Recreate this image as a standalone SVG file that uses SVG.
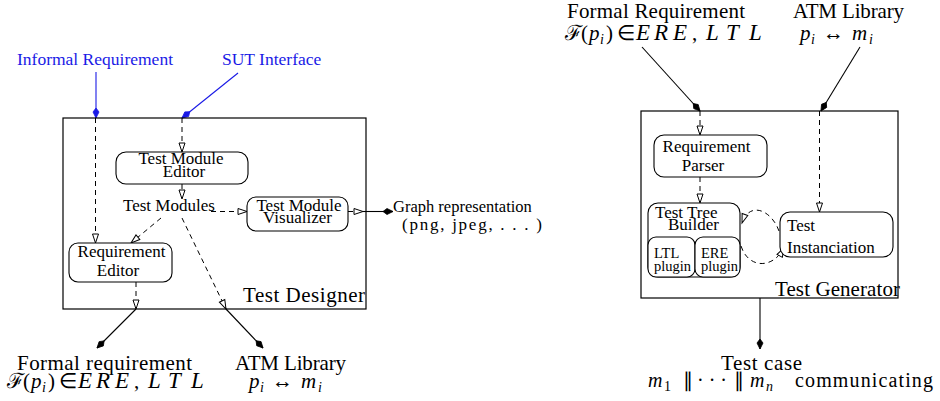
<svg xmlns="http://www.w3.org/2000/svg" width="940" height="401" viewBox="0 0 940 401">
<style>
.big{font-size:21px}
.mid{font-size:17px}
.sm{font-size:14.5px}
.blue{fill:#1a1ae6;font-size:17.5px}
.it{font-style:italic}
.cap{font-style:italic;font-size:23px}
.sub{font-style:italic;font-size:14px}
.box{fill:none;stroke:#000;stroke-width:1.2}
.node{fill:#fff;stroke:#000;stroke-width:1.1}
.dash{fill:none;stroke:#000;stroke-width:1;stroke-dasharray:5,4;marker-end:url(#open)}
.solid{fill:none;stroke:#000;stroke-width:1.1;marker-end:url(#fill)}
.bsolid{fill:none;stroke:#1a1ae6;stroke-width:1.1;marker-end:url(#bfill)}
</style>
<defs>
<marker id="open" markerUnits="userSpaceOnUse" markerWidth="12" markerHeight="10" refX="9" refY="3" orient="auto" overflow="visible">
<path d="M0,0 L9,3 L0,6 Z" fill="#fff" stroke="#000" stroke-width="1"/>
</marker>
<marker id="fill" markerUnits="userSpaceOnUse" markerWidth="12" markerHeight="10" refX="10" refY="3" orient="auto" overflow="visible">
<path d="M0,3 L4,0 L10,3 L4,6 Z" fill="#000" stroke="#000" stroke-width="0.8"/>
</marker>
<marker id="bfill" markerUnits="userSpaceOnUse" markerWidth="12" markerHeight="10" refX="10" refY="3" orient="auto" overflow="visible">
<path d="M0,3 L4,0 L10,3 L4,6 Z" fill="#1a1ae6" stroke="#1a1ae6" stroke-width="0.8"/>
</marker>
</defs>

<g id="connectors">
<line class="bsolid" x1="96" y1="72" x2="96" y2="118"/>
<line class="dash" x1="95.5" y1="118" x2="95.5" y2="243"/>
<line class="bsolid" x1="238" y1="73" x2="182" y2="118"/>
<line class="dash" x1="182" y1="118" x2="182" y2="152"/>
<line class="dash" x1="182" y1="184" x2="182" y2="199"/>
<line class="dash" x1="211" y1="211.5" x2="247" y2="211.5"/>
<line class="dash" x1="161" y1="218" x2="131" y2="243"/>
<line class="dash" x1="182" y1="218" x2="226" y2="309"/>
<line class="solid" x1="226" y1="309" x2="263" y2="348"/>
<line class="dash" x1="136" y1="282" x2="136" y2="309"/>
<line class="solid" x1="136" y1="309" x2="97" y2="348"/>
<line class="dash" x1="348" y1="211.5" x2="363" y2="211.5"/>
<line class="solid" x1="363" y1="211.5" x2="393" y2="211.5"/>
<line class="solid" x1="642" y1="47" x2="700" y2="111"/>
<line class="dash" x1="700" y1="111" x2="700" y2="135"/>
<line class="solid" x1="860" y1="47" x2="821" y2="111"/>
<line class="dash" x1="819.5" y1="111" x2="819.5" y2="212"/>
<line class="dash" x1="700" y1="177" x2="700" y2="203"/>
<path class="dash" d="M779,231 C772,211 750,200 742,223"/>
<path class="dash" d="M741,246 C748,268 772,270 784,248"/>
<line class="solid" x1="760" y1="298" x2="760" y2="349"/>
</g>

<g id="external-inputs">
<text font-family="Liberation Serif, serif" class="blue" x="17" y="65">Informal Requirement</text>
<text font-family="Liberation Serif, serif" class="blue" x="222" y="65">SUT Interface</text>
</g>

<g id="test-designer">
<rect class="box" x="63" y="118" width="303" height="191"/>
<text font-family="Liberation Serif, serif" class="big" x="243" y="302" textLength="122" lengthAdjust="spacing">Test Designer</text>
</g>

<g id="test-module-editor">
<rect class="node" x="116" y="152" width="132" height="32" rx="10"/>
<text font-family="Liberation Serif, serif" class="mid" x="181" y="164" text-anchor="middle">Test Module</text>
<text font-family="Liberation Serif, serif" class="mid" x="184" y="177" text-anchor="middle">Editor</text>
</g>

<g id="test-modules">
<text font-family="Liberation Serif, serif" class="mid" x="123" y="211">Test Modules</text>
</g>

<g id="test-module-visualizer">
<rect class="node" x="247" y="197" width="101" height="34" rx="9"/>
<text font-family="Liberation Serif, serif" class="mid" x="299" y="211" text-anchor="middle">Test Module</text>
<text font-family="Liberation Serif, serif" class="mid" x="297.5" y="223" text-anchor="middle">Visualizer</text>
</g>

<g id="requirement-editor">
<rect class="node" x="69" y="243" width="103" height="39" rx="9"/>
<text font-family="Liberation Serif, serif" class="mid" x="121.5" y="257" text-anchor="middle">Requirement</text>
<text font-family="Liberation Serif, serif" class="mid" x="118" y="276" text-anchor="middle">Editor</text>
</g>

<g id="graph-representation">
<text font-family="Liberation Serif, serif" x="393" y="212" font-size="16.5">Graph representation</text>
<text font-family="Liberation Serif, serif" x="402" y="230" font-size="17" textLength="140" lengthAdjust="spacing">(png, jpeg, . . . )</text>
</g>

<g id="formal-requirement-out">
<text font-family="Liberation Serif, serif" class="big" x="17" y="370" textLength="175" lengthAdjust="spacing">Formal requirement</text>
<text font-family="Liberation Serif, serif" class="big" y="388"><tspan x="7">ℱ</tspan><tspan x="23">(</tspan><tspan x="31" class="it">p</tspan><tspan x="42" dy="4" class="sub">i</tspan><tspan x="48" dy="-4">)</tspan><tspan x="59">∈</tspan><tspan x="78" class="cap">E</tspan><tspan x="96" class="cap">R</tspan><tspan x="115" class="cap">E</tspan><tspan x="134">,</tspan><tspan x="148" class="cap">L</tspan><tspan x="168" class="cap">T</tspan><tspan x="191" class="cap">L</tspan></text>
</g>

<g id="atm-library-out">
<text font-family="Liberation Serif, serif" class="big" x="235" y="370" textLength="111" lengthAdjust="spacing">ATM Library</text>
<text font-family="Liberation Serif, serif" class="big" y="388"><tspan x="249" class="it">p</tspan><tspan x="260" dy="4" class="sub">i</tspan><tspan x="272" dy="-4">↔</tspan><tspan x="301" class="it">m</tspan><tspan x="318" dy="4" class="sub">i</tspan></text>
</g>

<g id="formal-requirement-in">
<text font-family="Liberation Serif, serif" class="big" x="567" y="18" textLength="178" lengthAdjust="spacing">Formal Requirement</text>
<text font-family="Liberation Serif, serif" class="big" y="40"><tspan x="565">ℱ</tspan><tspan x="581">(</tspan><tspan x="589" class="it">p</tspan><tspan x="600" dy="4" class="sub">i</tspan><tspan x="606" dy="-4">)</tspan><tspan x="617">∈</tspan><tspan x="636" class="cap">E</tspan><tspan x="654" class="cap">R</tspan><tspan x="673" class="cap">E</tspan><tspan x="692">,</tspan><tspan x="706" class="cap">L</tspan><tspan x="726" class="cap">T</tspan><tspan x="749" class="cap">L</tspan></text>
</g>

<g id="atm-library-in">
<text font-family="Liberation Serif, serif" class="big" x="793" y="18" textLength="111" lengthAdjust="spacing">ATM Library</text>
<text font-family="Liberation Serif, serif" class="big" y="40"><tspan x="800" class="it">p</tspan><tspan x="811" dy="4" class="sub">i</tspan><tspan x="823" dy="-4">↔</tspan><tspan x="852" class="it">m</tspan><tspan x="869" dy="4" class="sub">i</tspan></text>
</g>

<g id="test-generator">
<rect class="box" x="641" y="111" width="257" height="187"/>
<text font-family="Liberation Serif, serif" class="big" x="775" y="296" textLength="125" lengthAdjust="spacing">Test Generator</text>
</g>

<g id="requirement-parser">
<rect class="node" x="654" y="135" width="113" height="42" rx="10"/>
<text font-family="Liberation Serif, serif" class="mid" x="706.5" y="152" text-anchor="middle">Requirement</text>
<text font-family="Liberation Serif, serif" class="mid" x="703" y="171" text-anchor="middle">Parser</text>
</g>

<g id="test-tree-builder">
<rect class="node" x="648" y="203" width="92" height="74" rx="10"/>
<text font-family="Liberation Serif, serif" class="mid" x="655" y="218">Test Tree</text>
<text font-family="Liberation Serif, serif" class="mid" x="668" y="230">Builder</text>
</g>

<g id="ltl-plugin">
<rect class="node" x="648" y="237" width="47" height="40" rx="8"/>
<text font-family="Liberation Serif, serif" class="sm" x="654" y="258">LTL</text>
<text font-family="Liberation Serif, serif" class="sm" x="654" y="271">plugin</text>
</g>

<g id="ere-plugin">
<rect class="node" x="695" y="237" width="45" height="40" rx="8"/>
<text font-family="Liberation Serif, serif" class="sm" x="701" y="258">ERE</text>
<text font-family="Liberation Serif, serif" class="sm" x="701" y="271">plugin</text>
</g>

<g id="test-instanciation">
<rect class="node" x="780" y="212" width="113" height="45" rx="10"/>
<text font-family="Liberation Serif, serif" class="mid" x="787" y="231">Test</text>
<text font-family="Liberation Serif, serif" class="mid" x="787" y="253">Instanciation</text>
</g>

<g id="test-case">
<text font-family="Liberation Serif, serif" class="big" x="721" y="370" textLength="81" lengthAdjust="spacing">Test case</text>
<text font-family="Liberation Serif, serif" y="387" font-size="20"><tspan x="648" class="it">m</tspan><tspan x="664" dy="4" font-size="14">1</tspan><tspan x="683" dy="-4">∥</tspan><tspan x="697">· · ·</tspan><tspan x="734">∥</tspan><tspan x="750" class="it">m</tspan><tspan x="766" dy="4" class="sub">n</tspan><tspan x="795" dy="-4" textLength="138" lengthAdjust="spacing">communicating</tspan></text>
</g>
</svg>
